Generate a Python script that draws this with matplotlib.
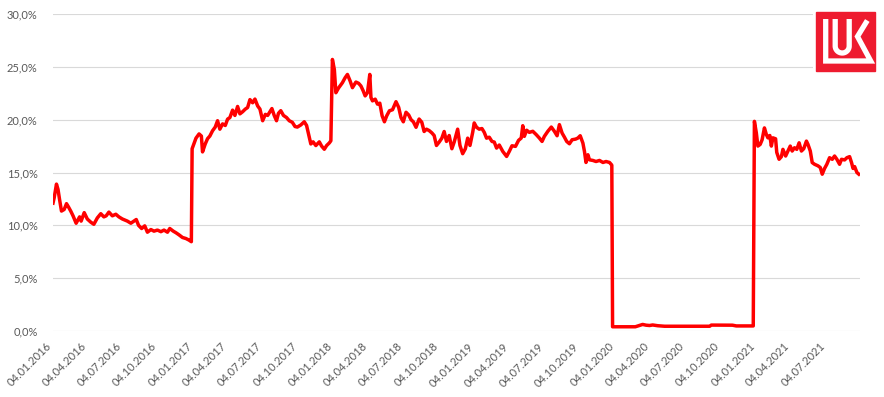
import matplotlib
matplotlib.use("Agg")
import matplotlib.pyplot as plt
import numpy as np
import pandas as pd
from matplotlib.patches import Rectangle
from matplotlib.ticker import FuncFormatter, MultipleLocator

plt.rcParams["font.family"] = ["Lato", "DejaVu Sans"]

# dividend yield, %, month-day per year
md_2016 = ["01-04", "01-07", "01-13", "01-17", "01-21", "01-26", "02-02", "02-08", "02-13", "02-19",
           "02-25", "03-04", "03-13", "03-17", "03-25", "04-02", "04-11", "04-19", "04-28", "05-07",
           "05-15", "05-21", "05-28", "06-06", "06-15", "06-23", "07-02", "07-15", "07-24", "08-01",
           "08-07", "08-13", "08-21", "08-29", "09-05", "09-14", "09-22", "10-01", "10-10", "10-18",
           "10-27", "11-02", "11-11", "11-18", "11-26", "12-05", "12-14", "12-22", "12-28", "12-30"]
yield_2016 = [12.1, 12.6, 13.9, 13.4, 12.45, 11.35, 11.5, 12.05, 11.75, 11.35,
              10.9, 10.2, 10.8, 10.4, 11.2, 10.6, 10.3, 10.1, 10.7, 11.1,
              10.8, 10.9, 11.25, 10.9, 11.05, 10.8, 10.6, 10.4, 10.2, 10.4,
              10.55, 10.0, 9.7, 9.95, 9.35, 9.6, 9.45, 9.55, 9.4, 9.55,
              9.35, 9.7, 9.45, 9.3, 9.1, 8.85, 8.75, 8.6, 8.45, 17.25]

md_2017 = ["01-09", "01-17", "01-23", "01-26", "02-02", "02-08", "02-14", "02-21", "02-28", "03-06",
           "03-12", "03-19", "03-26", "04-01", "04-07", "04-14", "04-20", "04-27", "05-03", "05-10",
           "05-17", "05-23", "05-29", "06-05", "06-11", "06-18", "06-24", "07-01", "07-08", "07-14",
           "07-20", "07-25", "07-31", "08-06", "08-11", "08-17", "08-24", "09-01", "09-08", "09-16",
           "09-23", "09-29", "10-08", "10-17", "10-23", "10-28", "11-03", "11-09", "11-16", "11-25",
           "12-01", "12-08", "12-14", "12-21", "12-25", "12-29"]
yield_2017 = [18.25, 18.65, 18.45, 16.95, 17.7, 18.2, 18.45, 18.95, 19.3, 19.9,
              19.1, 19.6, 19.45, 20.05, 20.2, 20.9, 20.4, 21.25, 20.55, 20.75,
              21.0, 21.15, 21.9, 21.6, 21.95, 21.3, 21.0, 19.9, 20.5, 20.4,
              20.75, 21.05, 20.4, 19.9, 20.6, 20.85, 20.4, 20.2, 19.9, 19.75,
              19.35, 19.3, 19.5, 19.8, 19.45, 18.65, 17.7, 17.9, 17.55, 17.9,
              17.5, 17.2, 17.55, 17.8, 18.0, 25.7]

md_2018 = ["01-03", "01-07", "01-14", "01-24", "01-31", "02-06", "02-13", "02-19", "02-28", "03-07",
           "03-13", "03-19", "03-24", "03-30", "04-05", "04-08", "04-12", "04-19", "04-25", "05-01",
           "05-07", "05-13", "05-19", "05-26", "06-03", "06-12", "06-19", "06-25", "07-01", "07-08",
           "07-15", "07-21", "07-27", "08-03", "08-11", "08-18", "08-24", "08-30", "09-06", "09-13",
           "09-19", "09-25", "10-02", "10-09", "10-15", "10-21", "10-28", "11-04", "11-10", "11-19",
           "11-25", "12-02", "12-09", "12-15", "12-21", "12-28"]
yield_2018 = [24.75, 22.55, 23.0, 23.5, 23.97, 24.28, 23.66, 23.03, 23.56, 23.44,
              23.19, 22.72, 22.25, 22.56, 24.28, 22.1, 21.78, 21.94, 21.47, 21.56,
              20.37, 19.8, 20.37, 20.84, 20.94, 21.7, 21.16, 20.2, 19.8, 20.7,
              20.44, 20.0, 19.8, 19.28, 20.06, 19.75, 18.88, 19.1, 18.97, 18.75,
              18.5, 17.56, 17.88, 18.25, 18.88, 17.94, 18.5, 17.25, 17.88, 19.1,
              17.56, 16.78, 17.25, 18.25, 17.56, 18.8]

md_2019 = ["01-01", "01-07", "01-14", "01-21", "01-27", "02-02", "02-09", "02-16", "02-22", "02-28",
           "03-07", "03-16", "03-26", "04-02", "04-09", "04-18", "04-26", "05-03", "05-07", "05-11",
           "05-17", "05-24", "06-02", "06-11", "06-19", "06-26", "07-02", "07-11", "07-20", "07-28",
           "08-04", "08-10", "08-17", "08-23", "08-29", "09-05", "09-12", "09-21", "09-27", "10-03",
           "10-10", "10-14", "10-18", "10-23", "10-27", "11-05", "11-13", "11-22", "12-01", "12-09",
           "12-18", "12-24", "12-26"]
yield_2019 = [19.69, 19.28, 19.1, 19.16, 18.8, 18.25, 18.34, 17.94, 17.88, 17.31,
              17.6, 17.0, 16.52, 17.0, 17.53, 17.47, 18.04, 18.26, 19.43, 18.42,
              19.0, 18.8, 18.9, 18.58, 18.26, 17.94, 18.42, 18.9, 19.3, 18.9,
              18.48, 19.53, 18.73, 18.35, 17.94, 17.72, 18.1, 18.16, 18.26, 18.48,
              17.78, 17.0, 15.95, 16.68, 16.2, 16.14, 16.04, 16.14, 15.95, 16.04,
              15.95, 15.7, 0.4]

md_2020 = ["02-23", "03-04", "03-13", "03-22", "03-31", "04-08", "04-21", "05-09", "09-03", "09-07",
           "11-01", "11-11", "12-25", "12-28"]
yield_2020 = [0.4, 0.52, 0.62, 0.55, 0.52, 0.57, 0.5, 0.45, 0.45, 0.56,
              0.55, 0.48, 0.48, 19.84]

md_2021 = ["01-02", "01-06", "01-12", "01-17", "01-23", "01-28", "02-01", "02-06", "02-10", "02-14",
           "02-21", "02-24", "03-02", "03-08", "03-12", "03-19", "03-25", "03-31", "04-05", "04-11",
           "04-17", "04-23", "04-29", "05-05", "05-12", "05-16", "05-22", "05-27", "06-02", "06-11",
           "06-17", "06-22", "06-28", "07-04", "07-11", "07-18", "07-24", "07-30", "08-06", "08-11",
           "08-19", "08-25", "09-01", "09-06", "09-10", "09-14", "09-20", "09-25"]
yield_2021 = [18.75, 17.5, 17.66, 18.1, 19.22, 18.6, 18.28, 18.5, 17.5, 18.28,
              18.19, 16.9, 16.25, 16.5, 17.19, 16.56, 17.03, 17.5, 17.03, 17.34,
              17.19, 17.81, 17.03, 17.25, 17.97, 17.66, 17.03, 15.94, 15.78, 15.63,
              15.47, 14.84, 15.38, 15.78, 16.4, 16.25, 16.56, 16.25, 15.78, 16.25,
              16.19, 16.4, 16.5, 15.94, 15.38, 15.56, 15.0, 14.84]

years = {2016: (md_2016, yield_2016), 2017: (md_2017, yield_2017), 2018: (md_2018, yield_2018),
         2019: (md_2019, yield_2019), 2020: (md_2020, yield_2020), 2021: (md_2021, yield_2021)}
dates, values = [], []
for year, (mds, ys) in years.items():
    assert len(mds) == len(ys), year
    dates += [pd.Timestamp(f"{year}-{md}") for md in mds]
    values += ys

fig = plt.figure(figsize=(8.84, 3.97), dpi=100)
ax = fig.add_axes([53 / 884, 66 / 397, 807 / 884, 317 / 397])

ax.plot(dates, values, color="#FF0000", lw=2.5, solid_joinstyle="round", zorder=3)

ax.set_ylim(0, 30)
ax.set_xlim(pd.Timestamp("2016-01-04"), pd.Timestamp("2021-09-28"))
ax.yaxis.set_major_locator(MultipleLocator(5))
ax.yaxis.set_major_formatter(FuncFormatter(lambda v, _: f"{v:.1f}".replace(".", ",") + "%"))

ticks = pd.date_range("2016-01-01", "2021-07-01", freq="QS") + pd.Timedelta(days=3)
ax.set_xticks(ticks)
ax.set_xticklabels([t.strftime("%d.%m.%Y") for t in ticks], rotation=45, ha="right", va="top")

ax.tick_params(length=0, colors="#595959", labelsize=8)
ax.tick_params(axis="x", pad=7)
ax.tick_params(axis="y", pad=11)
ax.grid(axis="y", color="#D9D9D9", lw=0.8)
ax.grid(axis="x", visible=False)
ax.set_axisbelow(True)
for s in ax.spines.values():
    s.set_visible(False)

# logo in the top right corner (white margin covers the gridlines)
lax = fig.add_axes([813 / 884, 1 - 74 / 397, 71 / 884, 74 / 397])
lax.set_xlim(813, 884)
lax.set_ylim(74, 0)
lax.axis("off")
lax.add_patch(Rectangle((813, 0), 71, 74, color="white"))
lax.add_patch(Rectangle((816, 12), 59, 59, color="#EE1B2F"))
lax.plot([825.7, 825.7, 870.7, 857.5, 867.3], [19.0, 61, 61, 36.5, 20.5],
         color="white", lw=3.8, solid_joinstyle="miter", solid_capstyle="butt")
ang = np.linspace(0, np.pi, 30)
ux = np.concatenate([[835.2], 842.2 - 7.0 * np.cos(ang), [849.2]])
uy = np.concatenate([[19.0], 46 + 7.0 * np.sin(ang), [19.0]])
lax.plot(ux, uy, color="white", lw=3.8, solid_capstyle="butt")

fig.savefig("out.png", dpi=100)
